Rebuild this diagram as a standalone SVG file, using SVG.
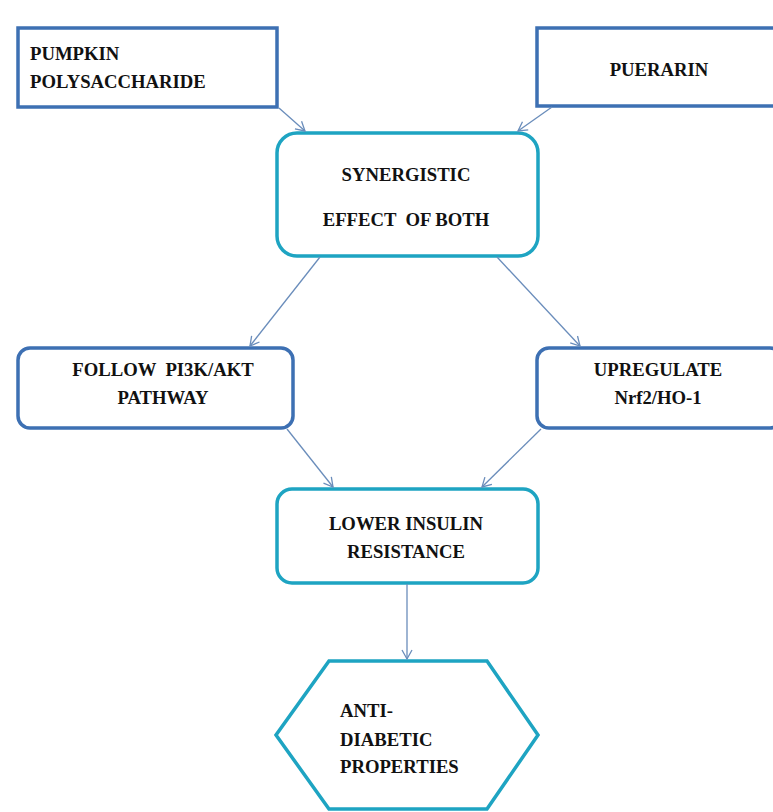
<svg xmlns="http://www.w3.org/2000/svg" width="773" height="812" viewBox="0 0 773 812">
<defs>
<marker id="arr" markerWidth="12" markerHeight="12" refX="10" refY="6" orient="auto" markerUnits="userSpaceOnUse">
<path d="M1,1 L10,6 L1,11" fill="none" stroke="#6a8dbb" stroke-width="1.3"/>
</marker>
<style>
.blue{fill:#fff;stroke:#3d70b3;stroke-width:3.5}
.teal{fill:#fff;stroke:#1ea4c2;stroke-width:3.5}
.t{font-family:"Liberation Serif","Times New Roman",serif;font-weight:bold;font-size:18.7px;fill:#111}
.c{text-anchor:middle}
.conn line{stroke:#6a8dbb;stroke-width:1.3;marker-end:url(#arr)}
</style>
</defs>
<rect width="773" height="812" fill="#fff"/>
<g id="pumpkin">
<rect class="blue" x="18" y="28" width="259" height="79"/>
<text class="t" x="30" y="60">PUMPKIN</text>
<text class="t" x="30" y="88">POLYSACCHARIDE</text>
</g>
<g id="puerarin">
<rect class="blue" x="537" y="28" width="240" height="78"/>
<text class="t c" x="659" y="76">PUERARIN</text>
</g>
<g id="synergistic">
<rect class="teal" x="277" y="133" width="261" height="123" rx="20"/>
<text class="t c" x="406" y="181">SYNERGISTIC</text>
<text class="t c" x="406" y="226" xml:space="preserve">EFFECT  OF BOTH</text>
</g>
<g id="follow">
<rect class="blue" x="18" y="348" width="275" height="80" rx="12"/>
<text class="t c" x="163" y="376" xml:space="preserve">FOLLOW  PI3K/AKT</text>
<text class="t c" x="163" y="404">PATHWAY</text>
</g>
<g id="upregulate">
<rect class="blue" x="537" y="348" width="245" height="80" rx="12"/>
<text class="t c" x="658" y="376">UPREGULATE</text>
<text class="t c" x="658" y="404">Nrf2/HO-1</text>
</g>
<g id="lower">
<rect class="teal" x="277" y="489" width="261" height="94" rx="15"/>
<text class="t c" x="406" y="530">LOWER INSULIN</text>
<text class="t c" x="406" y="558">RESISTANCE</text>
</g>
<g id="antidiabetic">
<polygon class="teal" points="329,661 487,661 538,735 487,809 329,809 276,735"/>
<text class="t" x="340" y="717">ANTI-</text>
<text class="t" x="340" y="746">DIABETIC</text>
<text class="t" x="340" y="773">PROPERTIES</text>
</g>
<g id="connectors" class="conn">
<line x1="279" y1="108" x2="305" y2="131"/>
<line x1="552" y1="107" x2="518" y2="131"/>
<line x1="320" y1="257" x2="250" y2="346"/>
<line x1="497" y1="257" x2="580" y2="346"/>
<line x1="287" y1="429" x2="333" y2="487"/>
<line x1="541" y1="429" x2="482" y2="487"/>
<line x1="407" y1="584" x2="407" y2="659"/>
</g>
</svg>
